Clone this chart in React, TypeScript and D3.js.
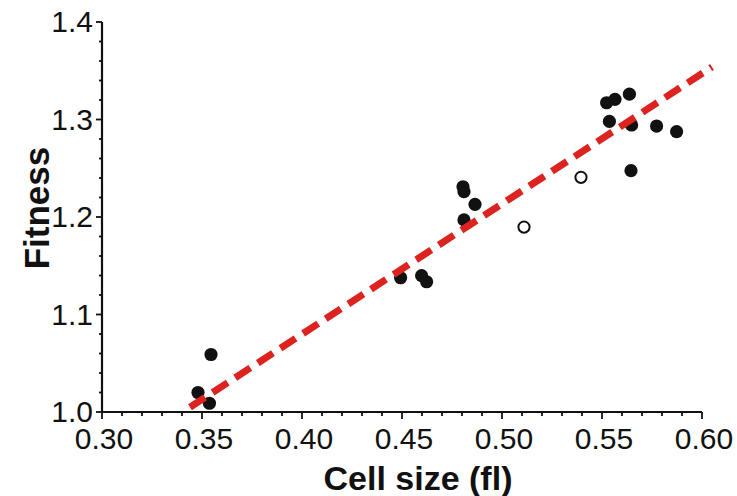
import React from "react";
import * as d3 from "d3";

// Cell size (fl) vs relative fitness
const filledSize = [0.348, 0.3537, 0.3545, 0.4493, 0.4598, 0.4623, 0.4805, 0.481, 0.4865, 0.481, 0.5523, 0.5565, 0.5637, 0.5537, 0.5648, 0.5773, 0.5873, 0.5645];
const filledFitness = [1.02, 1.009, 1.059, 1.1377, 1.1398, 1.1336, 1.231, 1.226, 1.213, 1.197, 1.3172, 1.3207, 1.326, 1.298, 1.2944, 1.2933, 1.2875, 1.2475];
const openSize = [0.511, 0.5395];
const openFitness = [1.1897, 1.2407];

// Regression line endpoints (x values) and fit coefficients
const fitRange = [0.344, 0.605];
const fitSlope = 1.337;
const fitIntercept = 0.545;

const xTicks = [0.3, 0.35, 0.4, 0.45, 0.5, 0.55, 0.6];
const yTicks = [1.0, 1.1, 1.2, 1.3, 1.4];

const W = 737;
const H = 496;

export default function App() {
  const x = d3.scaleLinear().domain([0.3, 0.6]).range([102, 702]);
  const y = d3.scaleLinear().domain([1.0, 1.4]).range([412, 22]);

  const xMinor = d3.range(0, 31).map((i) => 0.3 + i * 0.01);
  const yMinor = d3.range(0, 21).map((i) => 1.0 + i * 0.02);

  const fitLine = d3
    .line<number>()
    .x((d) => x(d))
    .y((d) => y(fitSlope * d + fitIntercept));

  const font = "'Liberation Sans', Arial, Helvetica, sans-serif";

  return (
    <svg
      width={W}
      height={H}
      style={{ position: "absolute", left: 0, top: 0, background: "#fff" }}
    >
      <rect width={W} height={H} fill="#fff" />
      {/* axes */}
      <line x1={x(0.3)} x2={x(0.3)} y1={y(1.4)} y2={y(1.0)} stroke="#111" strokeWidth={2.2} />
      <line x1={x(0.3)} x2={x(0.6)} y1={y(1.0)} y2={y(1.0)} stroke="#111" strokeWidth={2.2} />
      {xMinor.map((v, i) => (
        <line key={"xm" + i} x1={x(v)} x2={x(v)} y1={y(1.0)} y2={y(1.0) + (i % 5 === 0 ? 7 : 4)} stroke="#111" strokeWidth={1.8} />
      ))}
      {yMinor.map((v, i) => (
        <line key={"ym" + i} x1={x(0.3)} x2={x(0.3) - (i % 5 === 0 ? 6 : 3)} y1={y(v)} y2={y(v)} stroke="#111" strokeWidth={1.8} />
      ))}
      {xTicks.map((v) => (
        <text key={"xt" + v} x={x(v) + 2} y={449} textAnchor="middle" fontFamily={font} fontSize={30} fill="#111">
          {v.toFixed(2)}
        </text>
      ))}
      {yTicks.map((v) => (
        <text key={"yt" + v} x={93} y={y(v) + 10} textAnchor="end" fontFamily={font} fontSize={30} fill="#111">
          {v.toFixed(1)}
        </text>
      ))}
      {/* axis titles */}
      <text x={418} y={490} textAnchor="middle" fontFamily={font} fontWeight="bold" fontSize={34} fill="#111">
        Cell size (fl)
      </text>
      <text
        transform={`translate(49, 208) rotate(-90)`}
        textAnchor="middle"
        fontFamily={font}
        fontWeight="bold"
        fontSize={35}
        fill="#111"
      >
        Fitness
      </text>
      {/* data points */}
      {filledSize.map((s, i) => (
        <circle key={"f" + i} cx={x(s)} cy={y(filledFitness[i])} r={6.6} fill="#111" />
      ))}
      {openSize.map((s, i) => (
        <circle key={"o" + i} cx={x(s)} cy={y(openFitness[i])} r={5.6} fill="#fff" stroke="#111" strokeWidth={2} />
      ))}
      {/* regression line */}
      <path d={fitLine(fitRange) || ""} fill="none" stroke="#dd2320" strokeWidth={7} strokeDasharray="18 9" />
    </svg>
  );
}
